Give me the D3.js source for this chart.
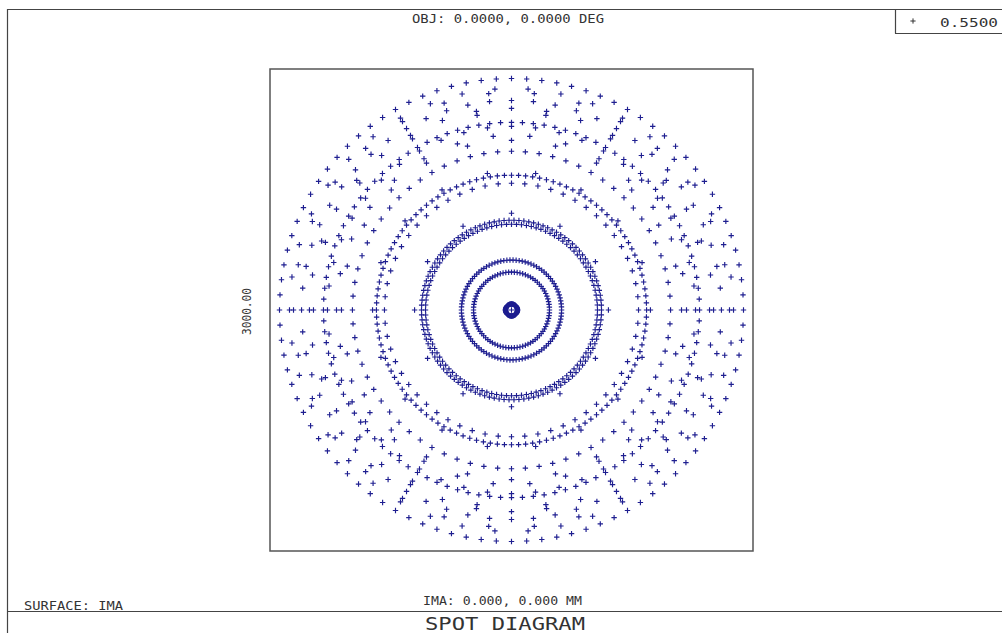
<!DOCTYPE html>
<html>
<head>
<meta charset="utf-8">
<script src="https://cdn.jsdelivr.net/npm/d3@7"></script>
<style>
  html, body { margin: 0; padding: 0; background: #fff; }
  svg { display: block; }
  text { font-family: "DejaVu Sans Mono", "Liberation Mono", monospace; fill: #333; }
</style>
</head>
<body>
<svg id="chart" width="1002" height="633"></svg>
<script>
// Spot diagram: on-axis field, one wavelength, rays traced on pupil rings.
// Each ring lands on a circle of the given image radius (µm) with the given ray count.
const ringRadius = [0, 37, 236, 311, 534, 559, 602, 789, 839, 863, 988, 1056, 1087, 1143, 1168, 1230, 1255, 1304, 1354, 1379, 1441];
const ringRays   = [1, 90, 84, 102, 108, 114, 12, 60, 120, 18, 72, 24, 30, 48, 108, 18, 36, 60, 30, 42, 96];

const scaleLabels = ["3000.00"];
const fieldLabel = "OBJ: 0.0000, 0.0000 DEG";
const imageLabel = "IMA: 0.000, 0.000 MM";
const surfaceLabel = "SURFACE: IMA";
const wavelengths = ["0.5500"];
const titleLabel = "SPOT DIAGRAM";

const halfBox = 1500; // µm, half of the plotted box width

const svg = d3.select("#chart");
const W = 1002, H = 633;

// Outer frame
const frame = svg.append("g").attr("stroke", "#444").attr("fill", "none").attr("stroke-width", 1.2);
frame.append("line").attr("x1", 7.5).attr("y1", 9).attr("x2", 7.5).attr("y2", H);
frame.append("line").attr("x1", 7).attr("y1", 9.5).attr("x2", W).attr("y2", 9.5);
frame.append("line").attr("x1", 7).attr("y1", 611.5).attr("x2", W).attr("y2", 611.5);
// Wavelength legend box
frame.append("line").attr("x1", 895.5).attr("y1", 9).attr("x2", 895.5).attr("y2", 33.5);
frame.append("line").attr("x1", 895).attr("y1", 33.5).attr("x2", W).attr("y2", 33.5);

// Plot area
const x = d3.scaleLinear().domain([-halfBox, halfBox]).range([270, 753]);
const y = d3.scaleLinear().domain([-halfBox, halfBox]).range([551, 69]);

svg.append("rect")
  .attr("x", x(-halfBox)).attr("y", y(halfBox))
  .attr("width", x(halfBox) - x(-halfBox)).attr("height", y(-halfBox) - y(halfBox))
  .attr("fill", "none").attr("stroke", "#555").attr("stroke-width", 1.5);

// Build ray intercepts from the ring table (angles start on +x axis)
const rays = [];
ringRadius.forEach((r, i) => {
  const n = ringRays[i];
  for (let k = 0; k < n; k++) {
    const a = 2 * Math.PI * k / n;
    rays.push({ x: r * Math.cos(a), y: r * Math.sin(a) });
  }
});

const arm = 2.7;
svg.append("g")
  .attr("stroke", "#1e1e90").attr("stroke-width", 1.15).attr("fill", "none")
  .selectAll("path").data(rays).join("path")
  .attr("d", d => {
    const px = x(d.x), py = y(d.y);
    return `M${px - arm},${py}H${px + arm}M${px},${py - arm}V${py + arm}`;
  });

// Texts
function label(txt, cx, by, len, size) {
  return svg.append("text")
    .attr("x", cx).attr("y", by)
    .attr("text-anchor", "middle")
    .attr("font-size", size)
    .attr("textLength", len)
    .attr("lengthAdjust", "spacingAndGlyphs")
    .text(txt);
}

label(fieldLabel, 508, 23, 192, 13);
label(imageLabel, 502.5, 605, 159, 13);
svg.append("text").attr("x", 24).attr("y", 610).attr("font-size", 13)
  .attr("textLength", 99).attr("lengthAdjust", "spacingAndGlyphs").text(surfaceLabel);
label(titleLabel, 505, 630, 160, 18);

// Scale bar label, rotated along the left side of the box
svg.append("text")
  .attr("transform", "translate(251,311.5) rotate(-90)")
  .attr("text-anchor", "middle").attr("font-size", 13)
  .attr("textLength", 47).attr("lengthAdjust", "spacingAndGlyphs")
  .text(scaleLabels[0]);

// Wavelength legend
const leg = svg.append("g");
leg.append("path")
  .attr("d", `M${913 - 2.6},21H${913 + 2.6}M913,${21 - 2.6}V${21 + 2.6}`)
  .attr("stroke", "#333").attr("stroke-width", 1);
leg.append("text").attr("x", 940).attr("y", 26.5).attr("font-size", 13)
  .attr("textLength", 58).attr("lengthAdjust", "spacingAndGlyphs").text(wavelengths[0]);
</script>
</body>
</html>
